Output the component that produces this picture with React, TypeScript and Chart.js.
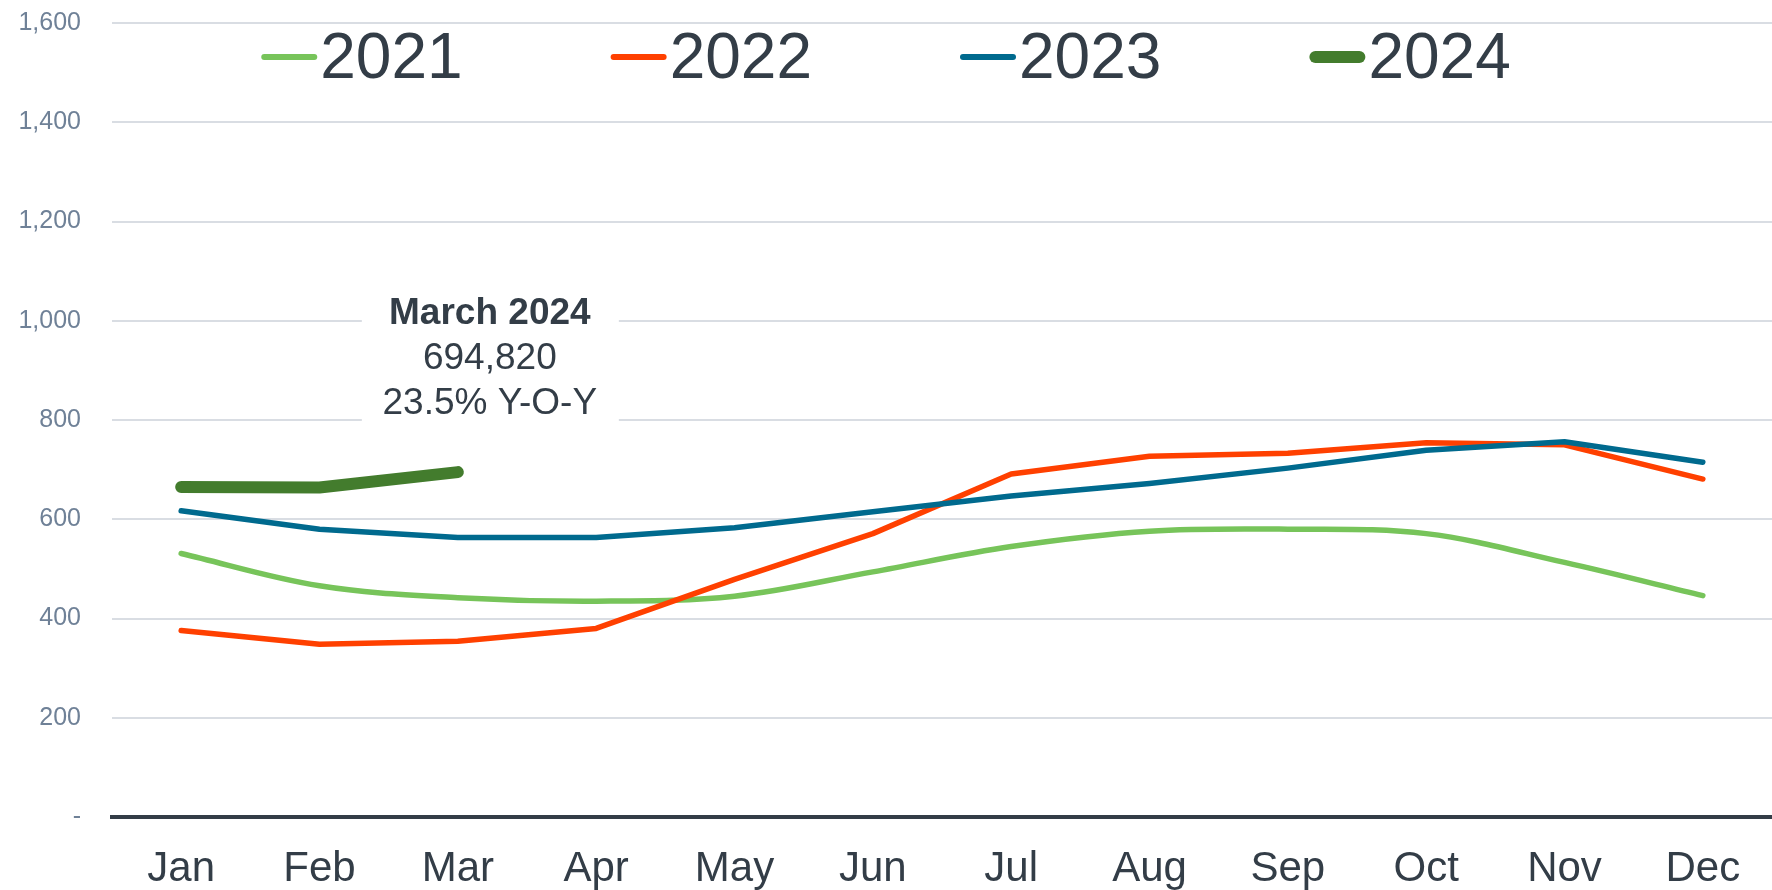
import React, { useEffect, useRef } from "react";
import { Chart, registerables } from "chart.js";

Chart.register(...registerables);

const months = ["Jan", "Feb", "Mar", "Apr", "May", "Jun", "Jul", "Aug", "Sep", "Oct", "Nov", "Dec"];
const series2021 = [531, 466, 442, 435, 445, 494, 545, 576, 580, 571, 513, 446];
const series2022 = [376, 348, 354, 380, 479, 571, 691, 727, 733, 754, 750, 681];
const series2023 = [617, 580, 563, 563, 583, 615, 647, 672, 703, 739, 756, 715];
const series2024 = [665, 664, 695];
const yTickLabels = ["-", "200", "400", "600", "800", "1,000", "1,200", "1,400", "1,600"];
const seriesNames = ["2021", "2022", "2023", "2024"];
const annotationLines = ["March 2024", "694,820", "23.5% Y-O-Y"];

const COLORS = ["#77c45a", "#ff4000", "#006a8e", "#437c2d"];
const WIDTHS = [5.5, 5.5, 5.5, 12];
const LEGEND_WIDTHS = [6, 6, 6, 12];
const FONT = "'Liberation Sans', Arial, sans-serif";
const TEXT_DARK = "#333d47";

const customPlugin = {
  id: "custom",
  beforeDatasetsDraw(chart: any) {
    const { ctx } = chart;
    const x = chart.scales.x;
    const y = chart.scales.y;
    const cx = x.getPixelForValue(2) + 32;
    const top = y.getPixelForValue(1000) - 38;
    const bottom = y.getPixelForValue(800) + 12;
    ctx.save();
    ctx.fillStyle = "#ffffff";
    ctx.fillRect(cx - 128, top, 257, bottom - top);
    ctx.fillStyle = TEXT_DARK;
    ctx.textAlign = "center";
    ctx.textBaseline = "middle";
    const y0 = y.getPixelForValue(1000) - 7;
    annotationLines.forEach((t, i) => {
      ctx.font = (i === 0 ? "bold " : "") + "37px " + FONT;
      ctx.fillText(t, cx, y0 + i * 45);
    });
    ctx.restore();
  },
  afterDraw(chart: any) {
    const { ctx } = chart;
    ctx.save();
    ctx.font = "64px " + FONT;
    const boxW = 56;
    const gapText = 3;
    const gapItems = 148;
    const widths = seriesNames.map((n) => boxW + gapText + ctx.measureText(n).width);
    const total = widths.reduce((a, b) => a + b, 0) + gapItems * (seriesNames.length - 1);
    let xPos = chart.width / 2 - total / 2;
    const lineY = 57;
    const baseY = 78;
    seriesNames.forEach((n, i) => {
      ctx.strokeStyle = COLORS[i];
      ctx.lineWidth = LEGEND_WIDTHS[i];
      ctx.lineCap = "round";
      ctx.beginPath();
      ctx.moveTo(xPos + LEGEND_WIDTHS[i] / 2, lineY);
      ctx.lineTo(xPos + boxW - LEGEND_WIDTHS[i] / 2, lineY);
      ctx.stroke();
      ctx.fillStyle = TEXT_DARK;
      ctx.textAlign = "left";
      ctx.textBaseline = "alphabetic";
      ctx.fillText(n, xPos + boxW + gapText, baseY);
      xPos += widths[i] + gapItems;
    });
    ctx.restore();
  },
};

export default function App() {
  const ref = useRef<HTMLCanvasElement | null>(null);
  useEffect(() => {
    if (!ref.current) return;
    const all = [series2021, series2022, series2023, series2024];
    const chart = new Chart(ref.current, {
      type: "line",
      data: {
        labels: months,
        datasets: all.map((d, i) => ({
          label: seriesNames[i],
          data: d,
          borderColor: COLORS[i],
          backgroundColor: COLORS[i],
          borderWidth: WIDTHS[i],
          pointRadius: 0,
          borderCapStyle: "round" as const,
          borderJoinStyle: "round" as const,
          tension: i === 0 ? 0.35 : 0,
          order: 4 - i,
        })),
      },
      options: {
        animation: false,
        responsive: true,
        maintainAspectRatio: false,
        layout: { padding: { top: 23, right: 0, left: 0, bottom: 0 } },
        plugins: { legend: { display: false }, tooltip: { enabled: false } },
        scales: {
          x: {
            offset: true,
            afterFit: (s: any) => {
              s.height = 73;
            },
            grid: { display: false, drawTicks: false },
            border: { display: true, color: TEXT_DARK, width: 4 },
            ticks: {
              color: TEXT_DARK,
              font: { family: FONT, size: 42 },
              padding: 27,
              maxRotation: 0,
            },
          },
          y: {
            min: 0,
            max: 1600,
            afterFit: (s: any) => {
              s.width = 112;
              s.paddingTop = 0;
              s.paddingBottom = 0;
            },
            grid: { color: "#d9dde3", lineWidth: 2, drawTicks: false },
            border: { display: false },
            ticks: {
              stepSize: 200,
              color: "#6f8197",
              font: { family: FONT, size: 25 },
              padding: 31,
              callback: (_v: any, i: number) => yTickLabels[i],
            },
          },
        },
      },
      plugins: [customPlugin],
    });
    return () => chart.destroy();
  }, []);
  return (
    <div style={{ position: "fixed", left: 0, top: 0, width: 1772, height: 890, background: "#fff" }}>
      <canvas ref={ref} />
    </div>
  );
}
